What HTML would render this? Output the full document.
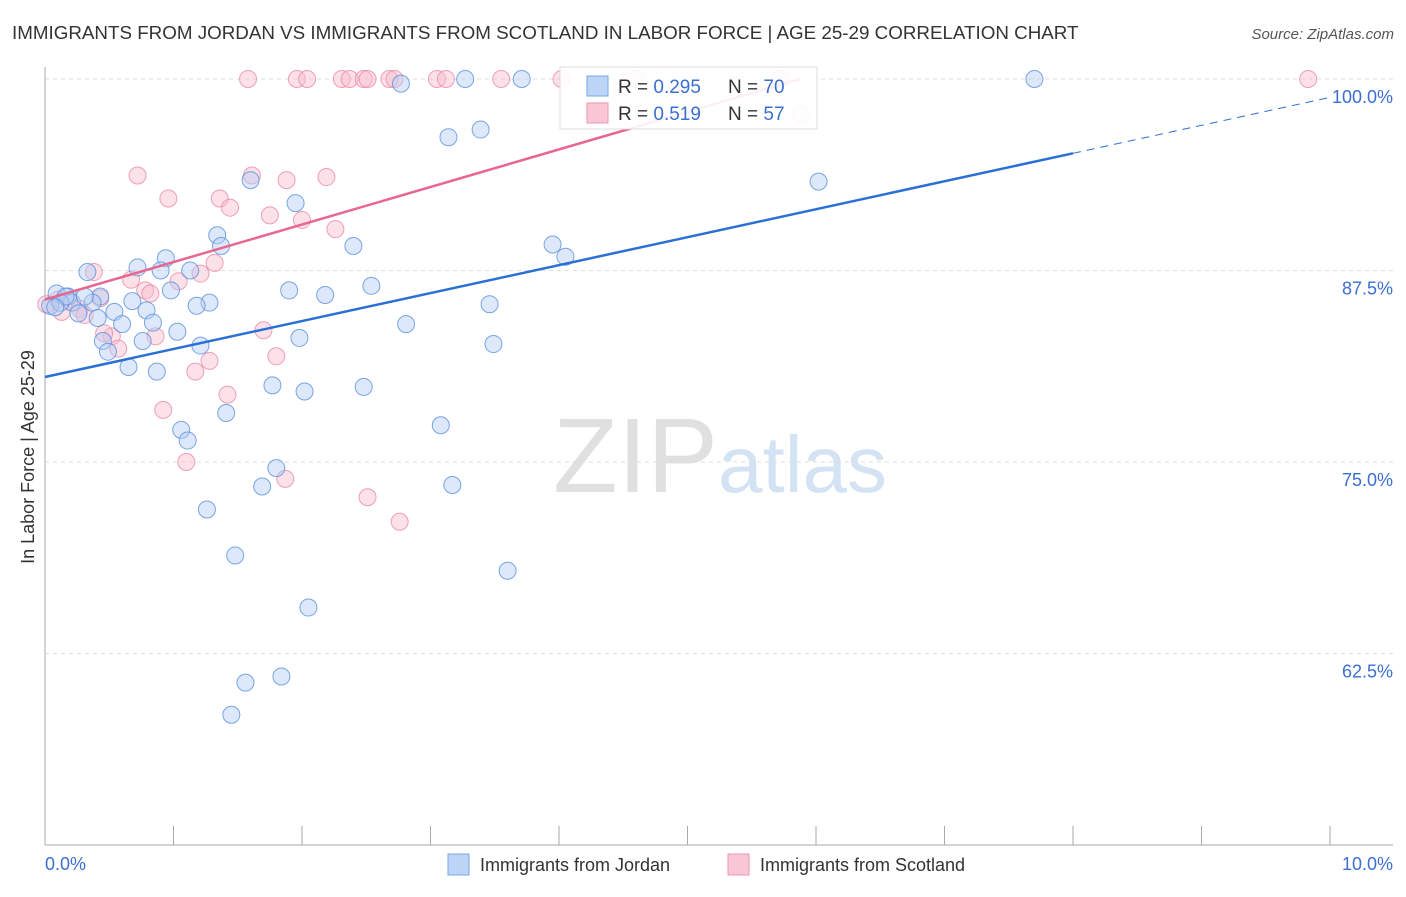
<!DOCTYPE html>
<html><head><meta charset="utf-8"><style>
body{margin:0;background:#fff;font-family:"Liberation Sans",sans-serif}
svg text{font-family:"Liberation Sans",sans-serif}
</style></head><body>
<svg id="chart" width="1406" height="892" xmlns="http://www.w3.org/2000/svg">
<text x="12" y="39" font-size="18.8" fill="#333">IMMIGRANTS FROM JORDAN VS IMMIGRANTS FROM SCOTLAND IN LABOR FORCE | AGE 25-29 CORRELATION CHART</text>
<text x="1394" y="39" font-size="15" fill="#555" font-style="italic" text-anchor="end">Source: ZipAtlas.com</text>
<text x="553" y="492" font-size="106" fill="#e0e0e0" font-family="Liberation Serif">ZIP</text>
<text x="718" y="492" font-size="80" fill="#d4e3f4">atlas</text>
<g id="grid"></g>
<g id="axes"></g>
<g id="pts"></g>
<g id="lines"></g>
<text transform="translate(34,457) rotate(-90)" font-size="18" fill="#333" text-anchor="middle">In Labor Force | Age 25-29</text>
<text x="45" y="870" font-size="18" fill="#3b6fd1">0.0%</text>
<text x="1393" y="870" font-size="18" fill="#3b6fd1" text-anchor="end">10.0%</text>
<g>
<rect x="448" y="854" width="21" height="21" fill="#bcd4f5" stroke="#7aa7e8"/>
<text x="480" y="871" font-size="18" fill="#333">Immigrants from Jordan</text>
<rect x="728" y="854" width="21" height="21" fill="#f8c6d4" stroke="#eb97b0"/>
<text x="760" y="871" font-size="18" fill="#333">Immigrants from Scotland</text>
</g>
<g>
<rect x="560" y="67" width="257" height="62" fill="#fff" fill-opacity="0.9" stroke="#ddd"/>
<rect x="587" y="76" width="21" height="20" fill="#bcd4f5" stroke="#7aa7e8"/>
<text x="618" y="93" font-size="19" fill="#333">R = <tspan fill="#3b6fd1">0.295</tspan></text>
<text x="728" y="93" font-size="19" fill="#333">N = <tspan fill="#3b6fd1">70</tspan></text>
<rect x="587" y="103" width="21" height="20" fill="#f8c6d4" stroke="#eb97b0"/>
<text x="618" y="120" font-size="19" fill="#333">R = <tspan fill="#3b6fd1"> 0.519</tspan></text>
<text x="728" y="120" font-size="19" fill="#333">N = <tspan fill="#3b6fd1"> 57</tspan></text>
</g>
</svg>
<script>
const yTicks=[100,87.5,75,62.5];
const yTickLabels=["100.0%","87.5%","75.0%","62.5%"];
const jordanX=[2.77,3.27,3.71,7.70,3.14,3.39,6.02,1.60,1.95,1.34,1.37,2.40,3.95,4.05,0.72,0.94,0.33,0.90,1.13,0.98,1.90,2.18,2.54,1.28,1.18,3.46,0.09,0.18,0.43,0.21,0.37,0.68,0.79,0.54,0.41,0.26,0.60,0.84,1.03,2.81,0.76,0.45,0.49,1.21,1.98,3.49,0.65,0.87,1.77,2.02,2.48,1.41,1.06,1.11,3.08,1.80,1.69,3.17,1.26,1.48,3.60,2.05,1.56,1.84,1.45,0.04,0.12,0.16,0.08,0.31];
const jordanY=[99.7,100,100,100,96.2,96.7,93.3,93.4,91.9,89.8,89.1,89.1,89.2,88.4,87.7,88.3,87.4,87.5,87.5,86.2,86.2,85.9,86.5,85.4,85.2,85.3,86.0,85.8,85.8,85.4,85.4,85.5,84.9,84.8,84.4,84.7,84.0,84.1,83.5,84.0,82.9,82.9,82.2,82.6,83.1,82.7,81.2,80.9,80.0,79.6,79.9,78.2,77.1,76.4,77.4,74.6,73.4,73.5,71.9,68.9,67.9,65.5,60.6,61.0,58.5,85.2,85.4,85.8,85.1,85.8];
const scotX=[1.58,1.96,2.04,2.31,2.37,2.48,2.51,2.68,2.72,3.05,3.12,3.55,4.02,4.60,5.72,9.83,5.88,0.72,0.96,1.61,1.88,2.19,1.36,1.44,1.75,2.00,2.26,1.32,0.38,1.21,0.67,1.04,0.78,0.82,0.43,0.10,0.01,0.19,0.27,0.52,0.57,0.86,1.28,1.17,1.70,1.80,1.42,0.92,1.10,1.87,2.51,2.76,0.13,0.31,0.46];
const scotY=[100,100,100,100,100,100,100,100,100,100,100,100,100,100,100,100,97.7,93.7,92.2,93.7,93.4,93.6,92.2,91.6,91.1,90.8,90.2,88.0,87.4,87.3,86.9,86.8,86.2,86.0,85.7,85.6,85.3,85.5,85.0,83.2,82.4,83.2,81.6,80.9,83.6,81.9,79.4,78.4,75.0,73.9,72.7,71.1,84.8,84.6,83.4];
const jordanTrend=[80.55,98.8], jordanSolidEnd=8.0;
const scotTrend=[85.6,100], scotEnd=5.875;
const NS="http://www.w3.org/2000/svg";
const X=v=>45+v*128.5, Y=v=>79+(100-v)/12.5*191.5;
function mk(t,a,p){const e=document.createElementNS(NS,t);for(const k in a)e.setAttribute(k,a[k]);p.appendChild(e);return e;}
const grid=document.getElementById('grid'),axes=document.getElementById('axes'),pts=document.getElementById('pts'),lines=document.getElementById('lines');
yTicks.forEach((t,i)=>{
 const l=mk('line',{x1:45,x2:1393,y1:Y(t),y2:Y(t),stroke:'#ddd','stroke-dasharray':'4,4'},grid);
 
 
 const tx=mk('text',{x:1393,y:Y(t)+24,'font-size':18,fill:'#3b6fd1','text-anchor':'end'},grid);
 tx.textContent=yTickLabels[i];
 
 
});
const ya=mk('line',{x1:45,x2:45,y1:67,y2:845,stroke:'#aaa'},axes);


const xa=mk('line',{x1:45,x2:1393,y1:845,y2:845,stroke:'#aaa'},axes);


for(let i=0;i<=10;i++){const tk=mk('line',{x1:X(i),x2:X(i),y1:826,y2:845,stroke:'#aaa'},axes);
 
 }
function dots(xs,ys,fill,stroke,name){xs.forEach((x,i)=>{const c=mk('circle',{cx:X(x),cy:Y(ys[i]),r:8.5,fill:fill,'fill-opacity':0.45,stroke:stroke,'stroke-opacity':0.8,'stroke-width':1},pts);
 
 });}
dots(scotX,scotY,'#f8bccd','#eb8aa8','scotland-point');
dots(jordanX,jordanY,'#b4cff3','#5a90de','jordan-point');
const jy=x=>jordanTrend[0]+(jordanTrend[1]-jordanTrend[0])*x/10;
let l1=mk('line',{x1:X(0),y1:Y(jy(0)),x2:X(jordanSolidEnd),y2:Y(jy(jordanSolidEnd)),stroke:'#2a6fd6','stroke-width':2.5},lines);


let l2=mk('line',{x1:X(jordanSolidEnd),y1:Y(jy(jordanSolidEnd)),x2:X(10),y2:Y(jy(10)),stroke:'#2a6fd6','stroke-width':1,'stroke-dasharray':'8,6'},lines);


const sy=x=>scotTrend[0]+(scotTrend[1]-scotTrend[0])*x/scotEnd;
let l3=mk('line',{x1:X(0),y1:Y(sy(0)),x2:X(scotEnd),y2:Y(sy(scotEnd)),stroke:'#e8668f','stroke-width':2.5},lines);


</script>
</body></html>
